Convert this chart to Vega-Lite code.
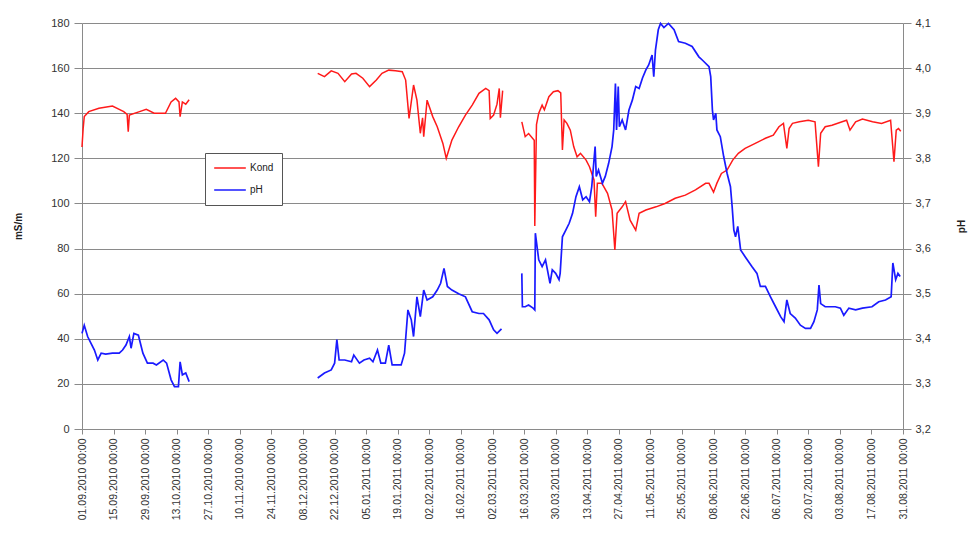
{
  "$schema": "https://vega.github.io/schema/vega-lite/v6.json",
  "width": 821,
  "height": 406,
  "autosize": {"type": "none"},
  "padding": {"left": 82, "top": 23, "right": 72, "bottom": 121},
  "background": "white",
  "config": {
    "view": {"stroke": null},
    "font": "Liberation Sans",
    "axis": {
      "gridColor": "#8a8a8a",
      "domainColor": "#8a8a8a",
      "tickColor": "#8a8a8a",
      "labelColor": "#333333",
      "labelFont": "Liberation Sans",
      "titleFont": "Liberation Sans",
      "titleColor": "#222222",
      "labelFontSize": 11
    }
  },
  "datasets": {
    "kond": [
      {"series": "Kond", "seg": 1, "date": "2010-09-01", "value": 125},
      {"series": "Kond", "seg": 1, "date": "2010-09-01T12:00Z", "value": 133},
      {"series": "Kond", "seg": 1, "date": "2010-09-02", "value": 138.5},
      {"series": "Kond", "seg": 1, "date": "2010-09-04", "value": 140.7},
      {"series": "Kond", "seg": 1, "date": "2010-09-08T12:00Z", "value": 142.2},
      {"series": "Kond", "seg": 1, "date": "2010-09-14T12:00Z", "value": 143.2},
      {"series": "Kond", "seg": 1, "date": "2010-09-17T12:00Z", "value": 141.7},
      {"series": "Kond", "seg": 1, "date": "2010-09-19T12:00Z", "value": 140.7},
      {"series": "Kond", "seg": 1, "date": "2010-09-21", "value": 139.5},
      {"series": "Kond", "seg": 1, "date": "2010-09-21T12:00Z", "value": 131.8},
      {"series": "Kond", "seg": 1, "date": "2010-09-22", "value": 139.2},
      {"series": "Kond", "seg": 1, "date": "2010-09-26T12:00Z", "value": 140.7},
      {"series": "Kond", "seg": 1, "date": "2010-09-29T12:00Z", "value": 141.7},
      {"series": "Kond", "seg": 1, "date": "2010-10-03", "value": 140},
      {"series": "Kond", "seg": 1, "date": "2010-10-08", "value": 140},
      {"series": "Kond", "seg": 1, "date": "2010-10-10T12:00Z", "value": 145},
      {"series": "Kond", "seg": 1, "date": "2010-10-12T12:00Z", "value": 146.6},
      {"series": "Kond", "seg": 1, "date": "2010-10-14", "value": 145},
      {"series": "Kond", "seg": 1, "date": "2010-10-14T12:00Z", "value": 138.5},
      {"series": "Kond", "seg": 1, "date": "2010-10-15T12:00Z", "value": 145},
      {"series": "Kond", "seg": 1, "date": "2010-10-17", "value": 144},
      {"series": "Kond", "seg": 1, "date": "2010-10-18T12:00Z", "value": 146},
      {"series": "Kond", "seg": 2, "date": "2010-12-14T12:00Z", "value": 157.7},
      {"series": "Kond", "seg": 2, "date": "2010-12-17T12:00Z", "value": 156.2},
      {"series": "Kond", "seg": 2, "date": "2010-12-20T12:00Z", "value": 158.8},
      {"series": "Kond", "seg": 2, "date": "2010-12-23T12:00Z", "value": 157.7},
      {"series": "Kond", "seg": 2, "date": "2010-12-26T12:00Z", "value": 154},
      {"series": "Kond", "seg": 2, "date": "2010-12-29T12:00Z", "value": 157.4},
      {"series": "Kond", "seg": 2, "date": "2010-12-31T12:00Z", "value": 157.7},
      {"series": "Kond", "seg": 2, "date": "2011-01-03T12:00Z", "value": 155.5},
      {"series": "Kond", "seg": 2, "date": "2011-01-06T12:00Z", "value": 151.8},
      {"series": "Kond", "seg": 2, "date": "2011-01-09T12:00Z", "value": 154.7},
      {"series": "Kond", "seg": 2, "date": "2011-01-12", "value": 157.7},
      {"series": "Kond", "seg": 2, "date": "2011-01-15", "value": 159.1},
      {"series": "Kond", "seg": 2, "date": "2011-01-18", "value": 158.8},
      {"series": "Kond", "seg": 2, "date": "2011-01-21", "value": 158.4},
      {"series": "Kond", "seg": 2, "date": "2011-01-22T12:00Z", "value": 154.7},
      {"series": "Kond", "seg": 2, "date": "2011-01-24", "value": 137.7},
      {"series": "Kond", "seg": 2, "date": "2011-01-26", "value": 152.5},
      {"series": "Kond", "seg": 2, "date": "2011-01-27T12:00Z", "value": 145.8},
      {"series": "Kond", "seg": 2, "date": "2011-01-29", "value": 131.1},
      {"series": "Kond", "seg": 2, "date": "2011-01-30", "value": 138},
      {"series": "Kond", "seg": 2, "date": "2011-01-30T12:00Z", "value": 129.6},
      {"series": "Kond", "seg": 2, "date": "2011-02-01", "value": 145.8},
      {"series": "Kond", "seg": 2, "date": "2011-02-03T12:00Z", "value": 138.5},
      {"series": "Kond", "seg": 2, "date": "2011-02-05T12:00Z", "value": 134},
      {"series": "Kond", "seg": 2, "date": "2011-02-08", "value": 126.6},
      {"series": "Kond", "seg": 2, "date": "2011-02-09T12:00Z", "value": 120},
      {"series": "Kond", "seg": 2, "date": "2011-02-12", "value": 128.1},
      {"series": "Kond", "seg": 2, "date": "2011-02-15", "value": 134},
      {"series": "Kond", "seg": 2, "date": "2011-02-18", "value": 139.2},
      {"series": "Kond", "seg": 2, "date": "2011-02-21", "value": 143.6},
      {"series": "Kond", "seg": 2, "date": "2011-02-24", "value": 148.8},
      {"series": "Kond", "seg": 2, "date": "2011-02-27", "value": 151},
      {"series": "Kond", "seg": 2, "date": "2011-02-28T12:00Z", "value": 150},
      {"series": "Kond", "seg": 2, "date": "2011-03-01", "value": 137.7},
      {"series": "Kond", "seg": 2, "date": "2011-03-02T12:00Z", "value": 139.2},
      {"series": "Kond", "seg": 2, "date": "2011-03-04", "value": 144},
      {"series": "Kond", "seg": 2, "date": "2011-03-05", "value": 151},
      {"series": "Kond", "seg": 2, "date": "2011-03-05T12:00Z", "value": 138},
      {"series": "Kond", "seg": 2, "date": "2011-03-06T12:00Z", "value": 150},
      {"series": "Kond", "seg": 3, "date": "2011-03-15", "value": 136.2},
      {"series": "Kond", "seg": 3, "date": "2011-03-16T12:00Z", "value": 129.6},
      {"series": "Kond", "seg": 3, "date": "2011-03-18", "value": 131},
      {"series": "Kond", "seg": 3, "date": "2011-03-20T12:00Z", "value": 128},
      {"series": "Kond", "seg": 3, "date": "2011-03-20T18:00Z", "value": 90},
      {"series": "Kond", "seg": 3, "date": "2011-03-21T12:00Z", "value": 135},
      {"series": "Kond", "seg": 3, "date": "2011-03-22T12:00Z", "value": 140},
      {"series": "Kond", "seg": 3, "date": "2011-03-24", "value": 143.6},
      {"series": "Kond", "seg": 3, "date": "2011-03-25", "value": 141.5},
      {"series": "Kond", "seg": 3, "date": "2011-03-27", "value": 147.3},
      {"series": "Kond", "seg": 3, "date": "2011-03-29", "value": 149.5},
      {"series": "Kond", "seg": 3, "date": "2011-03-31", "value": 150},
      {"series": "Kond", "seg": 3, "date": "2011-04-01T06:00Z", "value": 149},
      {"series": "Kond", "seg": 3, "date": "2011-04-02", "value": 123.7},
      {"series": "Kond", "seg": 3, "date": "2011-04-02T18:00Z", "value": 137},
      {"series": "Kond", "seg": 3, "date": "2011-04-04", "value": 135.5},
      {"series": "Kond", "seg": 3, "date": "2011-04-05T12:00Z", "value": 132.5},
      {"series": "Kond", "seg": 3, "date": "2011-04-07", "value": 125.2},
      {"series": "Kond", "seg": 3, "date": "2011-04-08T12:00Z", "value": 120.7},
      {"series": "Kond", "seg": 3, "date": "2011-04-10", "value": 122.2},
      {"series": "Kond", "seg": 3, "date": "2011-04-12T12:00Z", "value": 119.2},
      {"series": "Kond", "seg": 3, "date": "2011-04-14", "value": 116.3},
      {"series": "Kond", "seg": 3, "date": "2011-04-16", "value": 110.4},
      {"series": "Kond", "seg": 3, "date": "2011-04-16T18:00Z", "value": 94.1},
      {"series": "Kond", "seg": 3, "date": "2011-04-17T12:00Z", "value": 108.9},
      {"series": "Kond", "seg": 3, "date": "2011-04-19T12:00Z", "value": 108.9},
      {"series": "Kond", "seg": 3, "date": "2011-04-22", "value": 104.5},
      {"series": "Kond", "seg": 3, "date": "2011-04-24", "value": 97.1},
      {"series": "Kond", "seg": 3, "date": "2011-04-25T06:00Z", "value": 79.4},
      {"series": "Kond", "seg": 3, "date": "2011-04-26T06:00Z", "value": 95.6},
      {"series": "Kond", "seg": 3, "date": "2011-04-28T12:00Z", "value": 98.5},
      {"series": "Kond", "seg": 3, "date": "2011-04-30", "value": 100.8},
      {"series": "Kond", "seg": 3, "date": "2011-05-02", "value": 92.6},
      {"series": "Kond", "seg": 3, "date": "2011-05-04T12:00Z", "value": 88.2},
      {"series": "Kond", "seg": 3, "date": "2011-05-06", "value": 95.6},
      {"series": "Kond", "seg": 3, "date": "2011-05-09", "value": 97.1},
      {"series": "Kond", "seg": 3, "date": "2011-05-13T12:00Z", "value": 98.5},
      {"series": "Kond", "seg": 3, "date": "2011-05-17T12:00Z", "value": 100},
      {"series": "Kond", "seg": 3, "date": "2011-05-22", "value": 102.3},
      {"series": "Kond", "seg": 3, "date": "2011-05-26T12:00Z", "value": 103.7},
      {"series": "Kond", "seg": 3, "date": "2011-05-31", "value": 106},
      {"series": "Kond", "seg": 3, "date": "2011-06-04T12:00Z", "value": 108.9},
      {"series": "Kond", "seg": 3, "date": "2011-06-06", "value": 108.9},
      {"series": "Kond", "seg": 3, "date": "2011-06-08", "value": 105},
      {"series": "Kond", "seg": 3, "date": "2011-06-09T12:00Z", "value": 109},
      {"series": "Kond", "seg": 3, "date": "2011-06-11T12:00Z", "value": 113.3},
      {"series": "Kond", "seg": 3, "date": "2011-06-14", "value": 114.8},
      {"series": "Kond", "seg": 3, "date": "2011-06-16T12:00Z", "value": 119.2},
      {"series": "Kond", "seg": 3, "date": "2011-06-19", "value": 122.2},
      {"series": "Kond", "seg": 3, "date": "2011-06-22", "value": 124.4},
      {"series": "Kond", "seg": 3, "date": "2011-06-26T12:00Z", "value": 126.6},
      {"series": "Kond", "seg": 3, "date": "2011-07-01", "value": 128.9},
      {"series": "Kond", "seg": 3, "date": "2011-07-04T12:00Z", "value": 130.3},
      {"series": "Kond", "seg": 3, "date": "2011-07-07", "value": 134},
      {"series": "Kond", "seg": 3, "date": "2011-07-09", "value": 135.5},
      {"series": "Kond", "seg": 3, "date": "2011-07-10T12:00Z", "value": 124.4},
      {"series": "Kond", "seg": 3, "date": "2011-07-11T12:00Z", "value": 133.2},
      {"series": "Kond", "seg": 3, "date": "2011-07-13", "value": 135.5},
      {"series": "Kond", "seg": 3, "date": "2011-07-16", "value": 136.2},
      {"series": "Kond", "seg": 3, "date": "2011-07-20", "value": 136.9},
      {"series": "Kond", "seg": 3, "date": "2011-07-23", "value": 136.2},
      {"series": "Kond", "seg": 3, "date": "2011-07-24T12:00Z", "value": 116.3},
      {"series": "Kond", "seg": 3, "date": "2011-07-25T12:00Z", "value": 131.1},
      {"series": "Kond", "seg": 3, "date": "2011-07-27T12:00Z", "value": 134},
      {"series": "Kond", "seg": 3, "date": "2011-07-30T12:00Z", "value": 134.7},
      {"series": "Kond", "seg": 3, "date": "2011-08-04", "value": 136.2},
      {"series": "Kond", "seg": 3, "date": "2011-08-06", "value": 136.9},
      {"series": "Kond", "seg": 3, "date": "2011-08-07T12:00Z", "value": 132.5},
      {"series": "Kond", "seg": 3, "date": "2011-08-10", "value": 136.2},
      {"series": "Kond", "seg": 3, "date": "2011-08-13", "value": 137.4},
      {"series": "Kond", "seg": 3, "date": "2011-08-17T12:00Z", "value": 136.2},
      {"series": "Kond", "seg": 3, "date": "2011-08-21T12:00Z", "value": 135.5},
      {"series": "Kond", "seg": 3, "date": "2011-08-25T12:00Z", "value": 136.9},
      {"series": "Kond", "seg": 3, "date": "2011-08-27", "value": 118.5},
      {"series": "Kond", "seg": 3, "date": "2011-08-28", "value": 132.5},
      {"series": "Kond", "seg": 3, "date": "2011-08-29", "value": 133.2},
      {"series": "Kond", "seg": 3, "date": "2011-08-30", "value": 132}
    ],
    "ph": [
      {"series": "pH", "seg": 1, "date": "2010-09-01", "value": 3.412},
      {"series": "pH", "seg": 1, "date": "2010-09-02", "value": 3.43},
      {"series": "pH", "seg": 1, "date": "2010-09-03T12:00Z", "value": 3.405},
      {"series": "pH", "seg": 1, "date": "2010-09-05", "value": 3.39},
      {"series": "pH", "seg": 1, "date": "2010-09-06T12:00Z", "value": 3.375},
      {"series": "pH", "seg": 1, "date": "2010-09-08", "value": 3.353},
      {"series": "pH", "seg": 1, "date": "2010-09-09T12:00Z", "value": 3.368},
      {"series": "pH", "seg": 1, "date": "2010-09-11T12:00Z", "value": 3.366},
      {"series": "pH", "seg": 1, "date": "2010-09-14T12:00Z", "value": 3.368},
      {"series": "pH", "seg": 1, "date": "2010-09-17T12:00Z", "value": 3.368},
      {"series": "pH", "seg": 1, "date": "2010-09-19", "value": 3.375},
      {"series": "pH", "seg": 1, "date": "2010-09-20T12:00Z", "value": 3.386},
      {"series": "pH", "seg": 1, "date": "2010-09-22", "value": 3.405},
      {"series": "pH", "seg": 1, "date": "2010-09-22T18:00Z", "value": 3.379},
      {"series": "pH", "seg": 1, "date": "2010-09-24", "value": 3.412},
      {"series": "pH", "seg": 1, "date": "2010-09-26", "value": 3.408},
      {"series": "pH", "seg": 1, "date": "2010-09-28", "value": 3.368},
      {"series": "pH", "seg": 1, "date": "2010-09-30", "value": 3.346},
      {"series": "pH", "seg": 1, "date": "2010-10-02T12:00Z", "value": 3.346},
      {"series": "pH", "seg": 1, "date": "2010-10-04", "value": 3.342},
      {"series": "pH", "seg": 1, "date": "2010-10-07", "value": 3.353},
      {"series": "pH", "seg": 1, "date": "2010-10-08T12:00Z", "value": 3.346},
      {"series": "pH", "seg": 1, "date": "2010-10-10T12:00Z", "value": 3.309},
      {"series": "pH", "seg": 1, "date": "2010-10-12", "value": 3.294},
      {"series": "pH", "seg": 1, "date": "2010-10-13T18:00Z", "value": 3.294},
      {"series": "pH", "seg": 1, "date": "2010-10-14T12:00Z", "value": 3.349},
      {"series": "pH", "seg": 1, "date": "2010-10-15T12:00Z", "value": 3.32},
      {"series": "pH", "seg": 1, "date": "2010-10-17", "value": 3.324},
      {"series": "pH", "seg": 1, "date": "2010-10-18T12:00Z", "value": 3.305},
      {"series": "pH", "seg": 2, "date": "2010-12-14T12:00Z", "value": 3.313},
      {"series": "pH", "seg": 2, "date": "2010-12-17T12:00Z", "value": 3.324},
      {"series": "pH", "seg": 2, "date": "2010-12-20T12:00Z", "value": 3.331},
      {"series": "pH", "seg": 2, "date": "2010-12-22", "value": 3.346},
      {"series": "pH", "seg": 2, "date": "2010-12-23", "value": 3.398},
      {"series": "pH", "seg": 2, "date": "2010-12-24", "value": 3.353},
      {"series": "pH", "seg": 2, "date": "2010-12-26T12:00Z", "value": 3.353},
      {"series": "pH", "seg": 2, "date": "2010-12-29T12:00Z", "value": 3.349},
      {"series": "pH", "seg": 2, "date": "2010-12-30T12:00Z", "value": 3.364},
      {"series": "pH", "seg": 2, "date": "2011-01-02", "value": 3.346},
      {"series": "pH", "seg": 2, "date": "2011-01-04", "value": 3.353},
      {"series": "pH", "seg": 2, "date": "2011-01-06T12:00Z", "value": 3.357},
      {"series": "pH", "seg": 2, "date": "2011-01-08", "value": 3.349},
      {"series": "pH", "seg": 2, "date": "2011-01-10", "value": 3.375},
      {"series": "pH", "seg": 2, "date": "2011-01-11T12:00Z", "value": 3.346},
      {"series": "pH", "seg": 2, "date": "2011-01-13T12:00Z", "value": 3.346},
      {"series": "pH", "seg": 2, "date": "2011-01-15", "value": 3.386},
      {"series": "pH", "seg": 2, "date": "2011-01-16T12:00Z", "value": 3.342},
      {"series": "pH", "seg": 2, "date": "2011-01-20T12:00Z", "value": 3.342},
      {"series": "pH", "seg": 2, "date": "2011-01-22", "value": 3.368},
      {"series": "pH", "seg": 2, "date": "2011-01-23T12:00Z", "value": 3.464},
      {"series": "pH", "seg": 2, "date": "2011-01-25", "value": 3.442},
      {"series": "pH", "seg": 2, "date": "2011-01-26", "value": 3.405},
      {"series": "pH", "seg": 2, "date": "2011-01-27T12:00Z", "value": 3.493},
      {"series": "pH", "seg": 2, "date": "2011-01-29", "value": 3.449},
      {"series": "pH", "seg": 2, "date": "2011-01-30T12:00Z", "value": 3.508},
      {"series": "pH", "seg": 2, "date": "2011-02-01", "value": 3.486},
      {"series": "pH", "seg": 2, "date": "2011-02-03T12:00Z", "value": 3.493},
      {"series": "pH", "seg": 2, "date": "2011-02-05T12:00Z", "value": 3.508},
      {"series": "pH", "seg": 2, "date": "2011-02-07", "value": 3.523},
      {"series": "pH", "seg": 2, "date": "2011-02-08T12:00Z", "value": 3.556},
      {"series": "pH", "seg": 2, "date": "2011-02-10", "value": 3.516},
      {"series": "pH", "seg": 2, "date": "2011-02-12", "value": 3.508},
      {"series": "pH", "seg": 2, "date": "2011-02-15", "value": 3.5},
      {"series": "pH", "seg": 2, "date": "2011-02-18", "value": 3.493},
      {"series": "pH", "seg": 2, "date": "2011-02-21", "value": 3.46},
      {"series": "pH", "seg": 2, "date": "2011-02-24", "value": 3.456},
      {"series": "pH", "seg": 2, "date": "2011-02-26", "value": 3.456},
      {"series": "pH", "seg": 2, "date": "2011-02-28T12:00Z", "value": 3.442},
      {"series": "pH", "seg": 2, "date": "2011-03-02T12:00Z", "value": 3.42},
      {"series": "pH", "seg": 2, "date": "2011-03-04", "value": 3.412},
      {"series": "pH", "seg": 2, "date": "2011-03-06", "value": 3.422},
      {"series": "pH", "seg": 3, "date": "2011-03-15", "value": 3.545},
      {"series": "pH", "seg": 3, "date": "2011-03-15T06:00Z", "value": 3.471},
      {"series": "pH", "seg": 3, "date": "2011-03-16T12:00Z", "value": 3.471},
      {"series": "pH", "seg": 3, "date": "2011-03-18", "value": 3.475},
      {"series": "pH", "seg": 3, "date": "2011-03-20", "value": 3.468},
      {"series": "pH", "seg": 3, "date": "2011-03-20T18:00Z", "value": 3.464},
      {"series": "pH", "seg": 3, "date": "2011-03-21", "value": 3.634},
      {"series": "pH", "seg": 3, "date": "2011-03-22T12:00Z", "value": 3.575},
      {"series": "pH", "seg": 3, "date": "2011-03-24", "value": 3.56},
      {"series": "pH", "seg": 3, "date": "2011-03-25T12:00Z", "value": 3.575},
      {"series": "pH", "seg": 3, "date": "2011-03-27T12:00Z", "value": 3.523},
      {"series": "pH", "seg": 3, "date": "2011-03-28T12:00Z", "value": 3.553},
      {"series": "pH", "seg": 3, "date": "2011-03-30", "value": 3.545},
      {"series": "pH", "seg": 3, "date": "2011-03-31T12:00Z", "value": 3.531},
      {"series": "pH", "seg": 3, "date": "2011-04-01", "value": 3.545},
      {"series": "pH", "seg": 3, "date": "2011-04-02", "value": 3.626},
      {"series": "pH", "seg": 3, "date": "2011-04-03T12:00Z", "value": 3.641},
      {"series": "pH", "seg": 3, "date": "2011-04-05", "value": 3.656},
      {"series": "pH", "seg": 3, "date": "2011-04-06T12:00Z", "value": 3.678},
      {"series": "pH", "seg": 3, "date": "2011-04-08", "value": 3.715},
      {"series": "pH", "seg": 3, "date": "2011-04-09T12:00Z", "value": 3.737},
      {"series": "pH", "seg": 3, "date": "2011-04-11", "value": 3.708},
      {"series": "pH", "seg": 3, "date": "2011-04-12T12:00Z", "value": 3.715},
      {"series": "pH", "seg": 3, "date": "2011-04-14", "value": 3.704},
      {"series": "pH", "seg": 3, "date": "2011-04-15", "value": 3.737},
      {"series": "pH", "seg": 3, "date": "2011-04-16T12:00Z", "value": 3.826},
      {"series": "pH", "seg": 3, "date": "2011-04-17", "value": 3.76},
      {"series": "pH", "seg": 3, "date": "2011-04-18", "value": 3.774},
      {"series": "pH", "seg": 3, "date": "2011-04-19T18:00Z", "value": 3.745},
      {"series": "pH", "seg": 3, "date": "2011-04-21", "value": 3.76},
      {"series": "pH", "seg": 3, "date": "2011-04-22T12:00Z", "value": 3.789},
      {"series": "pH", "seg": 3, "date": "2011-04-24", "value": 3.826},
      {"series": "pH", "seg": 3, "date": "2011-04-24T18:00Z", "value": 3.863},
      {"series": "pH", "seg": 3, "date": "2011-04-25T12:00Z", "value": 3.966},
      {"series": "pH", "seg": 3, "date": "2011-04-26", "value": 3.863},
      {"series": "pH", "seg": 3, "date": "2011-04-26T18:00Z", "value": 3.959},
      {"series": "pH", "seg": 3, "date": "2011-04-27T06:00Z", "value": 3.87},
      {"series": "pH", "seg": 3, "date": "2011-04-28T12:00Z", "value": 3.885},
      {"series": "pH", "seg": 3, "date": "2011-04-30", "value": 3.863},
      {"series": "pH", "seg": 3, "date": "2011-05-01T12:00Z", "value": 3.907},
      {"series": "pH", "seg": 3, "date": "2011-05-03", "value": 3.929},
      {"series": "pH", "seg": 3, "date": "2011-05-04T12:00Z", "value": 3.959},
      {"series": "pH", "seg": 3, "date": "2011-05-06", "value": 3.955},
      {"series": "pH", "seg": 3, "date": "2011-05-07T12:00Z", "value": 3.978},
      {"series": "pH", "seg": 3, "date": "2011-05-09", "value": 3.996},
      {"series": "pH", "seg": 3, "date": "2011-05-10T06:00Z", "value": 4.007},
      {"series": "pH", "seg": 3, "date": "2011-05-11T18:00Z", "value": 4.029},
      {"series": "pH", "seg": 3, "date": "2011-05-12T12:00Z", "value": 3.981},
      {"series": "pH", "seg": 3, "date": "2011-05-13T06:00Z", "value": 4.04},
      {"series": "pH", "seg": 3, "date": "2011-05-14T12:00Z", "value": 4.085},
      {"series": "pH", "seg": 3, "date": "2011-05-15T12:00Z", "value": 4.099},
      {"series": "pH", "seg": 3, "date": "2011-05-17", "value": 4.09},
      {"series": "pH", "seg": 3, "date": "2011-05-19", "value": 4.099},
      {"series": "pH", "seg": 3, "date": "2011-05-21T12:00Z", "value": 4.085},
      {"series": "pH", "seg": 3, "date": "2011-05-23T12:00Z", "value": 4.059},
      {"series": "pH", "seg": 3, "date": "2011-05-26T12:00Z", "value": 4.055},
      {"series": "pH", "seg": 3, "date": "2011-05-29T12:00Z", "value": 4.048},
      {"series": "pH", "seg": 3, "date": "2011-06-01T12:00Z", "value": 4.025},
      {"series": "pH", "seg": 3, "date": "2011-06-03", "value": 4.018},
      {"series": "pH", "seg": 3, "date": "2011-06-06", "value": 4.003},
      {"series": "pH", "seg": 3, "date": "2011-06-06T18:00Z", "value": 3.981},
      {"series": "pH", "seg": 3, "date": "2011-06-07T12:00Z", "value": 3.907},
      {"series": "pH", "seg": 3, "date": "2011-06-08", "value": 3.885},
      {"series": "pH", "seg": 3, "date": "2011-06-09", "value": 3.9},
      {"series": "pH", "seg": 3, "date": "2011-06-09T12:00Z", "value": 3.863},
      {"series": "pH", "seg": 3, "date": "2011-06-11", "value": 3.848},
      {"series": "pH", "seg": 3, "date": "2011-06-12T12:00Z", "value": 3.804},
      {"series": "pH", "seg": 3, "date": "2011-06-14", "value": 3.767},
      {"series": "pH", "seg": 3, "date": "2011-06-15T12:00Z", "value": 3.737},
      {"series": "pH", "seg": 3, "date": "2011-06-16T06:00Z", "value": 3.693},
      {"series": "pH", "seg": 3, "date": "2011-06-17", "value": 3.641},
      {"series": "pH", "seg": 3, "date": "2011-06-17T18:00Z", "value": 3.626},
      {"series": "pH", "seg": 3, "date": "2011-06-18T18:00Z", "value": 3.649},
      {"series": "pH", "seg": 3, "date": "2011-06-20", "value": 3.597},
      {"series": "pH", "seg": 3, "date": "2011-06-22", "value": 3.582},
      {"series": "pH", "seg": 3, "date": "2011-06-25", "value": 3.56},
      {"series": "pH", "seg": 3, "date": "2011-06-27T06:00Z", "value": 3.545},
      {"series": "pH", "seg": 3, "date": "2011-06-28T18:00Z", "value": 3.516},
      {"series": "pH", "seg": 3, "date": "2011-07-01", "value": 3.516},
      {"series": "pH", "seg": 3, "date": "2011-07-03T06:00Z", "value": 3.493},
      {"series": "pH", "seg": 3, "date": "2011-07-05T12:00Z", "value": 3.471},
      {"series": "pH", "seg": 3, "date": "2011-07-07T18:00Z", "value": 3.449},
      {"series": "pH", "seg": 3, "date": "2011-07-09T06:00Z", "value": 3.438},
      {"series": "pH", "seg": 3, "date": "2011-07-10T12:00Z", "value": 3.486},
      {"series": "pH", "seg": 3, "date": "2011-07-12", "value": 3.456},
      {"series": "pH", "seg": 3, "date": "2011-07-14T06:00Z", "value": 3.446},
      {"series": "pH", "seg": 3, "date": "2011-07-16T12:00Z", "value": 3.43},
      {"series": "pH", "seg": 3, "date": "2011-07-18T18:00Z", "value": 3.423},
      {"series": "pH", "seg": 3, "date": "2011-07-21", "value": 3.423},
      {"series": "pH", "seg": 3, "date": "2011-07-22T12:00Z", "value": 3.438},
      {"series": "pH", "seg": 3, "date": "2011-07-24", "value": 3.464},
      {"series": "pH", "seg": 3, "date": "2011-07-24T18:00Z", "value": 3.519},
      {"series": "pH", "seg": 3, "date": "2011-07-25T12:00Z", "value": 3.478},
      {"series": "pH", "seg": 3, "date": "2011-07-27T12:00Z", "value": 3.471},
      {"series": "pH", "seg": 3, "date": "2011-08-01", "value": 3.471},
      {"series": "pH", "seg": 3, "date": "2011-08-03T06:00Z", "value": 3.468},
      {"series": "pH", "seg": 3, "date": "2011-08-04T18:00Z", "value": 3.452},
      {"series": "pH", "seg": 3, "date": "2011-08-07", "value": 3.468},
      {"series": "pH", "seg": 3, "date": "2011-08-10", "value": 3.464},
      {"series": "pH", "seg": 3, "date": "2011-08-13", "value": 3.468},
      {"series": "pH", "seg": 3, "date": "2011-08-17T06:00Z", "value": 3.471},
      {"series": "pH", "seg": 3, "date": "2011-08-20T06:00Z", "value": 3.482},
      {"series": "pH", "seg": 3, "date": "2011-08-23T06:00Z", "value": 3.486},
      {"series": "pH", "seg": 3, "date": "2011-08-25T18:00Z", "value": 3.493},
      {"series": "pH", "seg": 3, "date": "2011-08-26T12:00Z", "value": 3.568},
      {"series": "pH", "seg": 3, "date": "2011-08-27T18:00Z", "value": 3.531},
      {"series": "pH", "seg": 3, "date": "2011-08-28T18:00Z", "value": 3.545},
      {"series": "pH", "seg": 3, "date": "2011-08-29T18:00Z", "value": 3.538}
    ]
  },
  "encoding": {
    "x": {
      "field": "date",
      "type": "temporal",
      "scale": {
        "type": "utc",
        "domain": [
          {"year": 2010, "month": 9, "date": 1, "utc": true},
          {"year": 2011, "month": 8, "date": 31, "utc": true}
        ]
      },
      "axis": {
        "title": null,
        "grid": false,
        "tickSize": 5,
        "labelAngle": 270,
        "labelFontSize": 10.5,
        "labelPadding": 4,
        "labelOverlap": false,
        "labelFlush": false,
        "labelExpr": "utcFormat(datum.value, '%d.%m.%Y %H:%M')",
        "values": [
          {"year": 2010, "month": 9, "date": 1, "utc": true},
          {"year": 2010, "month": 9, "date": 15, "utc": true},
          {"year": 2010, "month": 9, "date": 29, "utc": true},
          {"year": 2010, "month": 10, "date": 13, "utc": true},
          {"year": 2010, "month": 10, "date": 27, "utc": true},
          {"year": 2010, "month": 11, "date": 10, "utc": true},
          {"year": 2010, "month": 11, "date": 24, "utc": true},
          {"year": 2010, "month": 12, "date": 8, "utc": true},
          {"year": 2010, "month": 12, "date": 22, "utc": true},
          {"year": 2011, "month": 1, "date": 5, "utc": true},
          {"year": 2011, "month": 1, "date": 19, "utc": true},
          {"year": 2011, "month": 2, "date": 2, "utc": true},
          {"year": 2011, "month": 2, "date": 16, "utc": true},
          {"year": 2011, "month": 3, "date": 2, "utc": true},
          {"year": 2011, "month": 3, "date": 16, "utc": true},
          {"year": 2011, "month": 3, "date": 30, "utc": true},
          {"year": 2011, "month": 4, "date": 13, "utc": true},
          {"year": 2011, "month": 4, "date": 27, "utc": true},
          {"year": 2011, "month": 5, "date": 11, "utc": true},
          {"year": 2011, "month": 5, "date": 25, "utc": true},
          {"year": 2011, "month": 6, "date": 8, "utc": true},
          {"year": 2011, "month": 6, "date": 22, "utc": true},
          {"year": 2011, "month": 7, "date": 6, "utc": true},
          {"year": 2011, "month": 7, "date": 20, "utc": true},
          {"year": 2011, "month": 8, "date": 3, "utc": true},
          {"year": 2011, "month": 8, "date": 17, "utc": true},
          {"year": 2011, "month": 8, "date": 31, "utc": true}
        ]
      }
    },
    "color": {
      "field": "series",
      "type": "nominal",
      "scale": {"domain": ["Kond", "pH"], "range": ["#ff1a1a", "#1a1aff"]},
      "legend": {
        "title": null,
        "orient": "none",
        "legendX": 123,
        "legendY": 130,
        "strokeColor": "#555555",
        "fillColor": "white",
        "padding": 8,
        "symbolType": "stroke",
        "symbolSize": 1000,
        "symbolStrokeWidth": 1.5,
        "labelFontSize": 10,
        "labelColor": "#222222",
        "labelOffset": 3,
        "clipHeight": 14,
        "rowPadding": 8
      }
    },
    "detail": {"field": "seg", "type": "nominal"}
  },
  "layer": [
    {
      "data": {"name": "kond"},
      "mark": {"type": "line", "strokeWidth": 1.5},
      "encoding": {
        "y": {
          "field": "value",
          "type": "quantitative",
          "scale": {"domain": [0, 180], "nice": false},
          "axis": {
            "title": "mS/m",
            "titleFontSize": 10,
            "titleFontWeight": "bold",
            "titlePadding": 27,
            "values": [0, 20, 40, 60, 80, 100, 120, 140, 160, 180],
            "grid": true,
            "tickSize": 8,
            "labelPadding": 5
          }
        }
      }
    },
    {
      "data": {"name": "ph"},
      "mark": {"type": "line", "strokeWidth": 1.7},
      "encoding": {
        "y": {
          "field": "value",
          "type": "quantitative",
          "scale": {"domain": [3.2, 4.1], "nice": false, "zero": false},
          "axis": {
            "orient": "right",
            "title": "pH",
            "titleAngle": 270,
            "titleFontSize": 10,
            "titleFontWeight": "bold",
            "titlePadding": 36,
            "values": [3.2, 3.3, 3.4, 3.5, 3.6, 3.7, 3.8, 3.9, 4.0, 4.1],
            "labelExpr": "replace(format(datum.value, '.1f'), '.', ',')",
            "grid": false,
            "tickSize": 8,
            "labelPadding": 4
          }
        }
      }
    }
  ],
  "resolve": {"scale": {"y": "independent"}}
}
